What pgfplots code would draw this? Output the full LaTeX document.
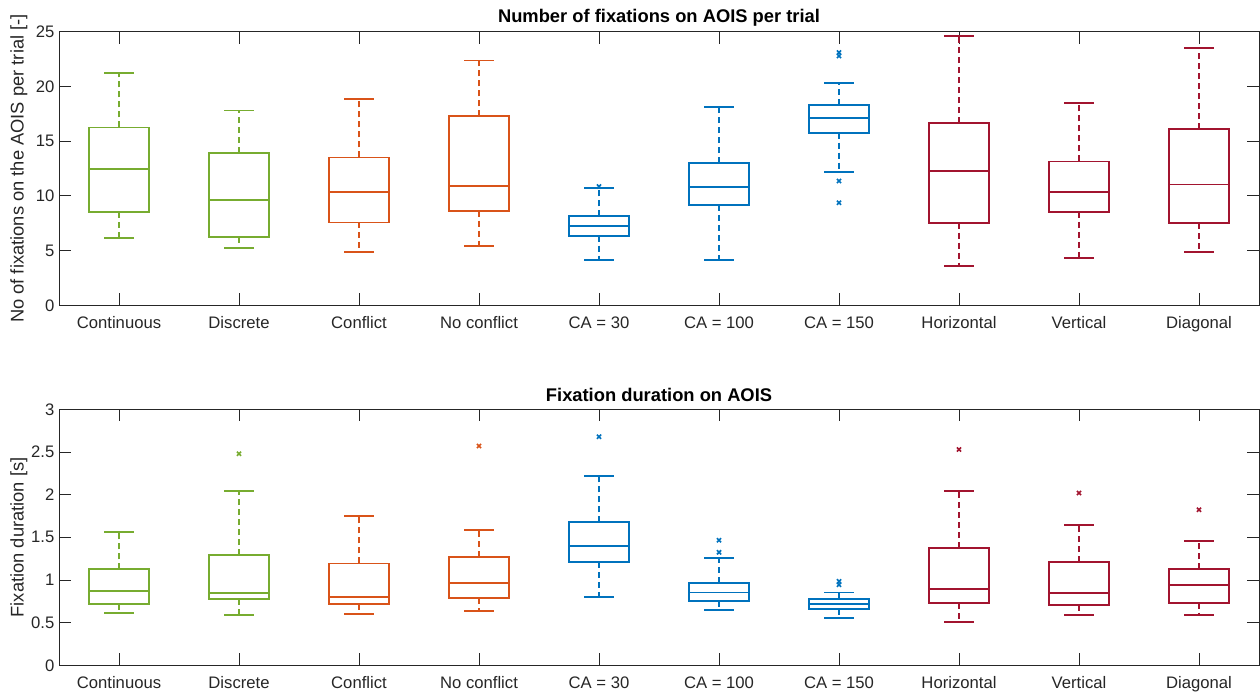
\documentclass[border=0pt]{standalone}
\usepackage{pgfplots}
\pgfplotsset{compat=1.18}
\usepgfplotslibrary{statistics}
\usepackage{fontspec}
\setmainfont{Liberation Sans}
\definecolor{cgreen}{rgb}{0.466,0.674,0.188}
\definecolor{corange}{rgb}{0.85,0.325,0.098}
\definecolor{cblue}{rgb}{0,0.447,0.741}
\definecolor{cred}{rgb}{0.635,0.078,0.184}
\definecolor{axgray}{rgb}{0.15,0.15,0.15}
\pgfplotsset{
  boxplot/draw/lower whisker/.code={%
    \draw[/pgfplots/boxplot/every whisker/.try, dash pattern=on 4.5pt off 3pt]
      (boxplot cs:\pgfplotsboxplotvalue{lower quartile}) -- (boxplot cs:\pgfplotsboxplotvalue{lower whisker});
    \draw[/pgfplots/boxplot/every whisker/.try, solid]
      (boxplot whisker cs:\pgfplotsboxplotvalue{lower whisker},0) -- (boxplot whisker cs:\pgfplotsboxplotvalue{lower whisker},1);
  },
  boxplot/draw/upper whisker/.code={%
    \draw[/pgfplots/boxplot/every whisker/.try, dash pattern=on 4.5pt off 3pt]
      (boxplot cs:\pgfplotsboxplotvalue{upper quartile}) -- (boxplot cs:\pgfplotsboxplotvalue{upper whisker});
    \draw[/pgfplots/boxplot/every whisker/.try, solid]
      (boxplot whisker cs:\pgfplotsboxplotvalue{upper whisker},0) -- (boxplot whisker cs:\pgfplotsboxplotvalue{upper whisker},1);
  },
  myaxis/.style={
    scale only axis, anchor=north west, width=900pt,
    xmin=0.5, xmax=10.5, xtick={1,...,10},
    xticklabels={Continuous,Discrete,Conflict,No conflict,CA = 30,CA = 100,CA = 150,Horizontal,Vertical,Diagonal},
    axis line style={axgray, line width=0.75pt},
    tick style={axgray, line width=0.75pt},
    major tick length=9pt,
    tick align=inside,
    font=\fontsize{12.5pt}{14pt}\selectfont,
    ticklabel style={text=axgray},
    xticklabel style={anchor=base, yshift=-17.25pt},
    /pgf/number format/assume math mode=true,
    ylabel style={at={(axis description cs:0,0.5)}, anchor=center, yshift=30pt, font=\fontsize{13.75pt}{15pt}\selectfont, text=axgray},
    title style={at={(axis description cs:0.5,1)}, anchor=center, yshift=4.75pt, font=\fontsize{13.75pt}{15pt}\selectfont\bfseries},
    boxplot/draw direction=y,
    boxplot/box extend=0.5,
    boxplot/whisker extend=0.25,
    every axis plot/.append style={line width=1.3pt, solid, mark=x, mark size=2.2pt, mark options={solid, line width=1.2pt}},
  },
}
\newcommand{\bp}[8]{\addplot[#1, boxplot prepared={draw position=#2, lower whisker=#3, lower quartile=#4, median=#5, upper quartile=#6, upper whisker=#7}] coordinates {#8};}
\begin{document}
\begin{tikzpicture}
\path[use as bounding box] (0,0) rectangle (945pt,-522pt);
\begin{axis}[myaxis, at={(44.25pt,-23.8pt)}, height=205.2pt,
  ymin=0, ymax=25, ytick={0,5,...,25},
  title={Number of fixations on AOIS per trial},
  ylabel={No of fixations on the AOIS per trial [-]}]
\bp{cgreen}{1}{6.18}{8.5}{12.45}{16.26}{21.2}{}
\bp{cgreen}{2}{5.21}{6.24}{9.62}{13.95}{17.81}{}
\bp{corange}{3}{4.9}{7.58}{10.35}{13.52}{18.85}{}
\bp{corange}{4}{5.39}{8.65}{10.93}{17.27}{22.38}{}
\bp{cblue}{5}{4.11}{6.36}{7.28}{8.13}{10.69}{(0,10.85)}
\bp{cblue}{6}{4.11}{9.17}{10.78}{13.0}{18.09}{}
\bp{cblue}{7}{12.18}{15.77}{17.11}{18.33}{20.34}{(0,23.11) (0,22.78) (0,11.36) (0,9.38)}
\bp{cred}{8}{3.59}{7.55}{12.27}{16.66}{24.6}{}
\bp{cred}{9}{4.35}{8.53}{10.35}{13.15}{18.51}{}
\bp{cred}{10}{4.84}{7.49}{11.05}{16.1}{23.5}{}
\end{axis}
\begin{axis}[myaxis, at={(44.25pt,-307pt)}, height=192pt,
  ymin=0, ymax=3, ytick={0,0.5,...,3},
  title={Fixation duration on AOIS},
  ylabel={Fixation duration [s]}]
\bp{cgreen}{1}{0.613}{0.723}{0.875}{1.125}{1.566}{}
\bp{cgreen}{2}{0.594}{0.777}{0.852}{1.293}{2.04}{(0,2.48)}
\bp{corange}{3}{0.602}{0.719}{0.797}{1.195}{1.754}{}
\bp{corange}{4}{0.633}{0.785}{0.961}{1.273}{1.582}{(0,2.57)}
\bp{cblue}{5}{0.797}{1.207}{1.398}{1.676}{2.22}{(0,2.68)}
\bp{cblue}{6}{0.648}{0.754}{0.855}{0.969}{1.262}{(0,1.465) (0,1.324)}
\bp{cblue}{7}{0.555}{0.66}{0.723}{0.777}{0.855}{(0,0.984) (0,0.945)}
\bp{cred}{8}{0.512}{0.727}{0.895}{1.379}{2.04}{(0,2.53)}
\bp{cred}{9}{0.586}{0.703}{0.852}{1.211}{1.645}{(0,2.02)}
\bp{cred}{10}{0.594}{0.734}{0.941}{1.129}{1.453}{(0,1.824)}
\end{axis}
\end{tikzpicture}
\end{document}
